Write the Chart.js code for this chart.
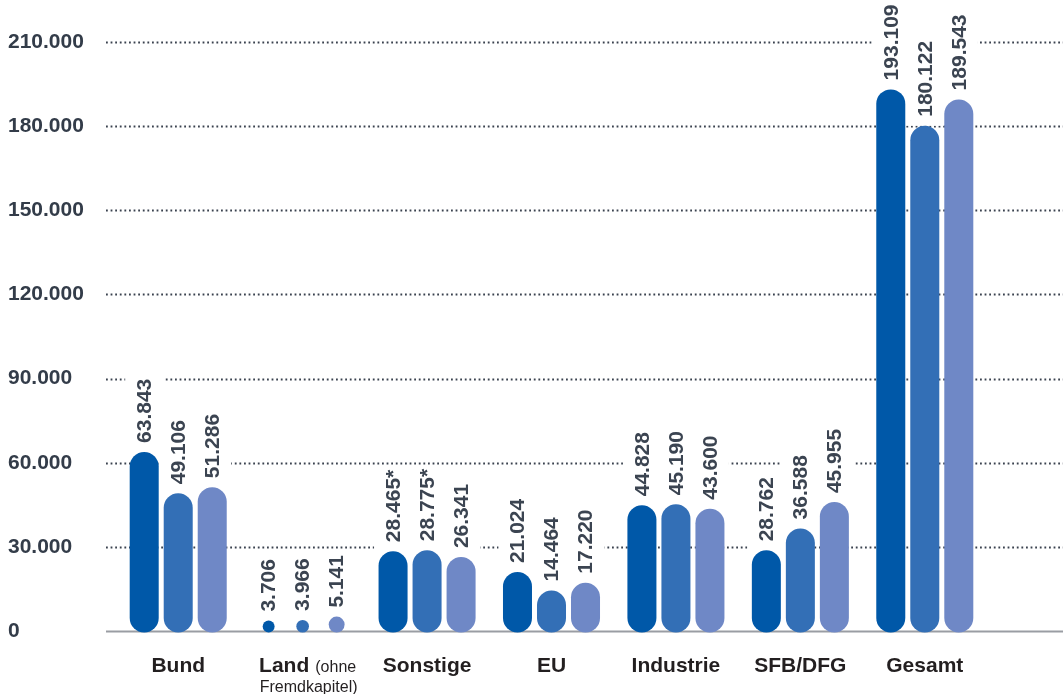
<!DOCTYPE html>
<html lang="de">
<head>
<meta charset="utf-8">
<script src="https://cdn.jsdelivr.net/npm/chart.js@4"></script>
<style>
  html, body { margin: 0; padding: 0; background: #fff; }
  #wrap { width: 1063px; height: 694px; position: relative; }
</style>
</head>
<body>
<div id="wrap"><canvas id="chart"></canvas></div>
<script>
const categories = ["Bund", "Land", "Sonstige", "EU", "Industrie", "SFB/DFG", "Gesamt"];
// second-line notes under a category label (first part inline, second part below)
const categoryNotes = [null, ["(ohne", "Fremdkapitel)"], null, null, null, null, null];

const series1 = [63843, 3706, 28465, 21024, 44828, 28762, 193109];
const series2 = [49106, 3966, 28775, 14464, 45190, 36588, 180122];
const series3 = [51286, 5141, 26341, 17220, 43600, 45955, 189543];

const seriesColors = ["#0058a8", "#336fb6", "#6f88c6"];
// [series, category] pairs that carry an asterisk
const starred = [[0, 2], [1, 2]];

const yTicks = [0, 30000, 60000, 90000, 120000, 150000, 180000, 210000];

const FONT = "'Liberation Sans', Arial, sans-serif";
const VALUE_FONT = "bold 21px " + FONT;

function fmt(n) {
  return String(n).replace(/\B(?=(\d{3})+(?!\d))/g, ".");
}

function valueText(si, i, v) {
  let txt = fmt(v);
  if (starred.some(s => s[0] === si && s[1] === i)) txt += "*";
  return txt;
}

const pillPlugin = {
  id: "pills",
  beforeDatasetsDraw(chart) {
    const { ctx, scales: { y }, chartArea } = chart;
    ctx.save();
    yTicks.forEach(v => {
      const py = Math.round(y.getPixelForValue(v)) + 0.5;
      ctx.beginPath();
      if (v === 0) {
        ctx.setLineDash([]);
        ctx.strokeStyle = "#9a9da3";
        ctx.lineWidth = 2;
      } else {
        ctx.setLineDash([1.8, 2.8]);
        ctx.strokeStyle = "#3a424f";
        ctx.lineWidth = 1.8;
      }
      ctx.moveTo(chartArea.left - 10, py);
      ctx.lineTo(chart.width, py);
      ctx.stroke();
    });
    // white knock-out behind the value labels
    ctx.setLineDash([]);
    ctx.font = VALUE_FONT;
    ctx.fillStyle = "#fff";
    chart.data.datasets.forEach((ds, si) => {
      chart.getDatasetMeta(si).data.forEach((el, i) => {
        const p = el.getProps(["x", "y"], true);
        const tw = ctx.measureText(valueText(si, i, ds.data[i])).width;
        const top = p.y - 9 - tw - 3;
        ctx.fillRect(p.x - 19, top, 38, p.y - top);
      });
    });
    ctx.restore();
  },
  beforeDatasetDraw(chart, args) {
    const { ctx } = chart;
    const meta = args.meta;
    ctx.save();
    ctx.fillStyle = seriesColors[args.index];
    meta.data.forEach(el => {
      const p = el.getProps(["x", "y", "base", "width"], true);
      const h = p.base - p.y + 1.5;
      const w = Math.min(p.width, h);
      ctx.beginPath();
      ctx.roundRect(p.x - w / 2, p.y, w, h, w / 2);
      ctx.fill();
    });
    ctx.restore();
    return false;
  },
  afterDatasetsDraw(chart) {
    const { ctx, scales: { x } } = chart;
    ctx.save();
    // value labels
    ctx.font = VALUE_FONT;
    ctx.fillStyle = "#3b4451";
    ctx.textAlign = "left";
    ctx.textBaseline = "middle";
    chart.data.datasets.forEach((ds, si) => {
      chart.getDatasetMeta(si).data.forEach((el, i) => {
        const p = el.getProps(["x", "y"], true);
        ctx.save();
        ctx.translate(p.x + 1, p.y - 9);
        ctx.rotate(-Math.PI / 2);
        ctx.fillText(valueText(si, i, ds.data[i]), 0, 0);
        ctx.restore();
      });
    });
    // category labels
    ctx.fillStyle = "#231f20";
    ctx.textBaseline = "alphabetic";
    categories.forEach((c, i) => {
      const cx = x.getPixelForTick(i);
      const note = categoryNotes[i];
      ctx.font = "bold 21px " + FONT;
      const wb = ctx.measureText(c).width;
      if (!note) {
        ctx.textAlign = "center";
        ctx.fillText(c, cx, 672);
        return;
      }
      ctx.font = "16px " + FONT;
      const wn = ctx.measureText(note[0]).width;
      const sp = 6;
      const start = cx + 5 - (wb + sp + wn) / 2;
      ctx.textAlign = "left";
      ctx.font = "bold 21px " + FONT;
      ctx.fillText(c, start, 672);
      ctx.font = "16px " + FONT;
      ctx.fillText(note[0], start + wb + sp, 672);
      ctx.textAlign = "center";
      ctx.fillText(note[1], cx + 6, 692);
    });
    ctx.restore();
  }
};

const ctx = document.getElementById("chart").getContext("2d");

new Chart(ctx, {
  type: "bar",
  data: {
    labels: categories,
    datasets: [
      { label: "Reihe 1", data: series1, backgroundColor: seriesColors[0] },
      { label: "Reihe 2", data: series2, backgroundColor: seriesColors[1] },
      { label: "Reihe 3", data: series3, backgroundColor: seriesColors[2] }
    ]
  },
  options: {
    responsive: true,
    maintainAspectRatio: false,
    animation: false,
    categoryPercentage: 0.82,
    barPercentage: 0.853,
    layout: { padding: { top: 42, left: 8, right: 76, bottom: 0 } },
    plugins: {
      legend: { display: false },
      tooltip: { enabled: false }
    },
    scales: {
      x: {
        grid: { display: false },
        border: { display: false },
        ticks: { display: false },
        afterFit: s => { s.height = 63; }
      },
      y: {
        min: 0,
        max: 210000,
        grid: { display: false },
        border: { display: false },
        afterBuildTicks: s => { s.ticks = yTicks.map(v => ({ value: v })); },
        afterFit: s => { s.width = 108; },
        ticks: {
          crossAlign: "far",
          padding: 0,
          color: "#333c49",
          font: { family: FONT, size: 21, weight: "bold" },
          callback: v => fmt(v)
        }
      }
    }
  },
  plugins: [pillPlugin]
});
</script>
</body>
</html>
